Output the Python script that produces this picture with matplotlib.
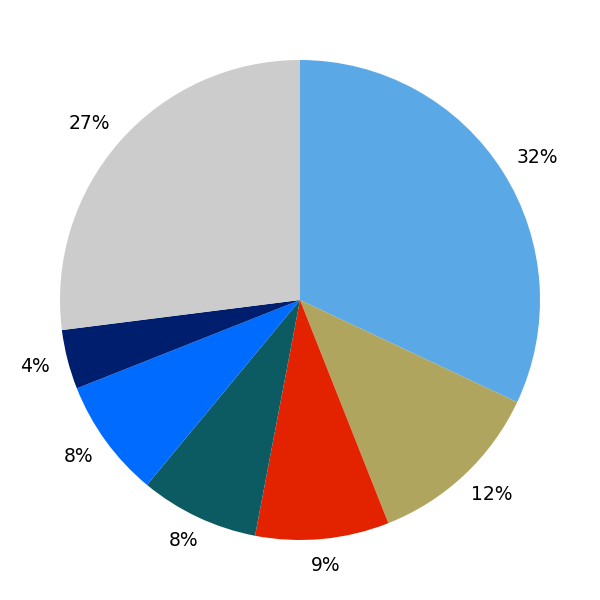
import numpy as np
import matplotlib
matplotlib.use('Agg')
import matplotlib.pyplot as plt

shares = [32, 12, 9, 8, 8, 4, 27]
colors = ['#5aa9e6', '#b0a55f', '#e32200', '#0d5b62', '#006bff', '#001e6e', '#cccccc']

fig = plt.figure(figsize=(6, 6), dpi=100)
ax = fig.add_axes([0, 0, 1, 1])
ax.set_xlim(-1.25, 1.25)
ax.set_ylim(-1.25, 1.25)
ax.set_aspect('equal')
ax.axis('off')

wedges, _ = ax.pie(shares, colors=colors, startangle=90, counterclock=False)

total = sum(shares)
fig.canvas.draw()
renderer = fig.canvas.get_renderer()
inv = ax.transData.inverted()
for w, v in zip(wedges, shares):
    mid = np.deg2rad((w.theta1 + w.theta2) / 2)
    dx, dy = np.cos(mid), np.sin(mid)
    t = ax.text(1.07 * dx, 1.07 * dy, f'{100 * v / total:.0f}%',
                ha='center', va='center', fontsize=13.5, color='black')
    bb = t.get_window_extent(renderer)
    p0 = inv.transform((bb.x0, bb.y0))
    p1 = inv.transform((bb.x1, bb.y1))
    hw, hh = (p1[0] - p0[0]) / 2 * 1.15, (p1[1] - p0[1]) / 2
    t.set_position((1.07 * dx + hw * dx, 1.07 * dy + hh * dy))

fig.savefig('out.png', dpi=100)
